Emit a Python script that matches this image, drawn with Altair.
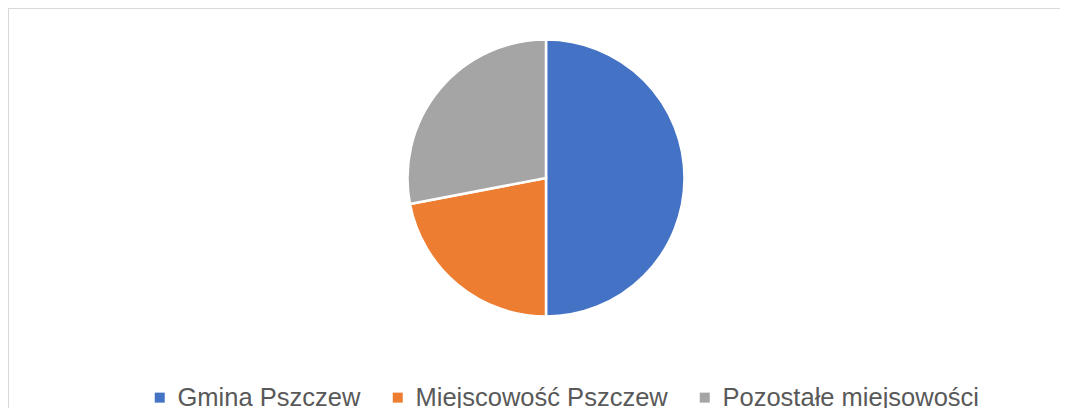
import altair as alt
import pandas as pd

categories = ["Gmina Pszczew", "Miejscowość Pszczew", "Pozostałe miejsowości"]
values = [50, 22, 28]
colors = ["#4472C4", "#ED7D31", "#A5A5A5"]

df = pd.DataFrame({"kategoria": categories, "wartosc": values, "kolejnosc": [0, 1, 2]})

frame_axis = dict(
    domainColor="#D9D9D9",
    domainWidth=1,
    ticks=False,
    labels=False,
    grid=False,
    title=None,
)

pie = (
    alt.Chart(df)
    .mark_arc(radius=138.5, x=538, y=170, stroke="white", strokeWidth=2.5)
    .encode(
        theta=alt.Theta("wartosc:Q", stack=True),
        order=alt.Order("kolejnosc:Q"),
        color=alt.Color(
            "kategoria:N",
            scale=alt.Scale(domain=categories, range=colors),
            sort=categories,
            legend=alt.Legend(
                title=None,
                orient="none",
                legendX=139,
                legendY=376.5,
                direction="horizontal",
                symbolType="square",
                symbolSize=100,
                symbolStrokeWidth=0,
                labelFont="Liberation Sans",
                labelFontSize=25.5,
                labelColor="#595959",
                labelOffset=5,
                labelLimit=0,
                columnPadding=24,
                padding=0,
            ),
        ),
    )
)

frame = (
    alt.Chart(df)
    .mark_point(opacity=0)
    .encode(
        x=alt.X("wartosc:Q", axis=alt.Axis(orient="top", **frame_axis)),
        y=alt.Y("kolejnosc:Q", axis=alt.Axis(orient="left", **frame_axis)),
    )
)

chart = (
    alt.layer(frame, pie)
    .properties(width=1052, height=400, padding=0, autosize="none")
    .configure_view(stroke=None)
    .configure(background="white")
)

chart.save("out.html", embed_options={"renderer": "svg", "actions": False})
